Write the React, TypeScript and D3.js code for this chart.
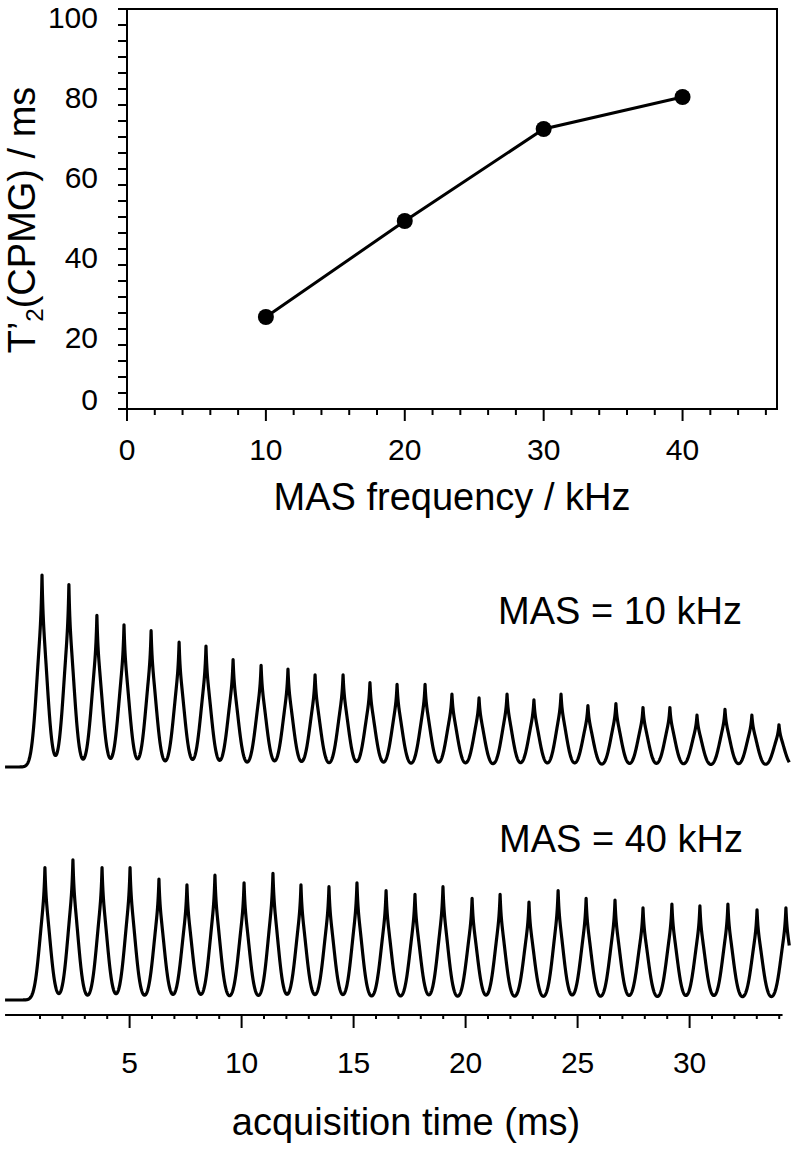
import React from 'react'
import * as d3 from 'd3'

// top panel: T'2(CPMG) vs MAS frequency
const MAS_FREQ = [10, 20, 30, 40]
const T2_CPMG = [23, 47, 70, 78]
const Y_TICK_LABELS = [0, 20, 40, 60, 80, 100]
const X_TICK_LABELS = [0, 10, 20, 30, 40]

// bottom panel: echo trains, echo top times (ms) and heights (a.u.)
const ECHO_T_10 = [1.09, 2.29, 3.54, 4.75, 5.96, 7.21, 8.41, 9.62, 10.87, 12.07, 13.28, 14.53, 15.73, 16.94,
  18.19, 19.39, 20.6, 21.85, 23.05, 24.26, 25.46, 26.71, 27.92, 29.12, 30.33, 31.58, 32.78, 33.99]
const ECHO_A_10 = [100, 95, 79, 74, 71, 65, 63, 56, 53, 51, 48, 48, 44, 43,
  43, 38, 36, 38, 35, 38, 32, 33, 31, 31, 27, 30, 27, 22]
const ECHO_T_40 = [1.22, 2.47, 3.77, 5.02, 6.31, 7.56, 8.81, 10.11, 11.4, 12.65, 13.9, 15.15, 16.45, 17.74,
  18.99, 20.29, 21.54, 22.83, 24.13, 25.38, 26.67, 27.92, 29.21, 30.46, 31.71, 33.01, 34.3]
const ECHO_A_40 = [69, 73, 69, 69, 63, 60, 65, 61, 66, 60, 59, 61, 57, 55,
  59, 53, 55, 51, 57, 53, 52, 48, 50, 49, 50, 47, 48]
const TIME_TICK_LABELS = [5, 10, 15, 20, 25, 30]

const FONT = '"Liberation Sans", Arial, Helvetica, sans-serif'

// echo line shape: small sharp tip on a gaussian body
function echoAt(t: number, times: number[], amps: number[]) {
  let s = 0
  times.forEach((t0, i) => {
    const dt = t - t0
    if (Math.abs(dt) > 2) return
    s += amps[i] * (0.3 * Math.exp(-Math.abs(dt) / 0.05)
      + 0.7 * Math.exp(-(dt * dt) / (2 * 0.24 * 0.24)))
  })
  return s
}

function TopChart() {
  const x = d3.scaleLinear().domain([0, 46.8]).range([127, 777])
  const y = d3.scaleLinear().domain([0, 100]).range([409, 9])
  const line = d3.line<number>().x((d, i) => x(MAS_FREQ[i])).y(d => y(d))

  return (
    <g>
      <path d={`M${x(0)},${y(100)}H${x(46.8)}V${y(0)}H${x(0)}Z`} fill="none" stroke="#000" strokeWidth={2} />
      {d3.range(0, 101, 4).map(v => (
        <line key={'yt' + v} x1={x(0) - 9} x2={x(0)} y1={y(v)} y2={y(v)} stroke="#000" strokeWidth={2} />
      ))}
      {Y_TICK_LABELS.map(v => (
        <text key={'yl' + v} x={98} y={y(v) + (v === 0 ? -10 : 8)} dy="0.36em" textAnchor="end"
          fontSize={30} fontFamily={FONT}>{v}</text>
      ))}
      {d3.range(0, 47, 2).map(v => (
        <line key={'xt' + v} x1={x(v)} x2={x(v)} y1={y(0)} y2={y(0) + (v % 10 === 0 ? 12 : 6)}
          stroke="#000" strokeWidth={2} />
      ))}
      {X_TICK_LABELS.map(v => (
        <text key={'xl' + v} x={x(v)} y={460} textAnchor="middle" fontSize={30} fontFamily={FONT}>{v}</text>
      ))}
      <text x={452} y={510} textAnchor="middle" fontSize={38} fontFamily={FONT}>MAS frequency / kHz</text>
      <text transform="translate(35,220) rotate(-90)" textAnchor="middle" fontSize={38} fontFamily={FONT}>
        T’<tspan fontSize={24} dy={8}>2</tspan><tspan dy={-8}>(CPMG) / ms</tspan>
      </text>
      <path d={line(T2_CPMG) || ''} fill="none" stroke="#000" strokeWidth={3} />
      {T2_CPMG.map((v, i) => (
        <circle key={'p' + i} cx={x(MAS_FREQ[i])} cy={y(v)} r={8} fill="#000" />
      ))}
    </g>
  )
}

function BottomChart() {
  const x = d3.scaleLinear().domain([0, 34]).range([17.6, 779.2])
  const y10 = d3.scaleLinear().domain([0, 100]).range([767, 575])
  const y40 = d3.scaleLinear().domain([0, 100]).range([1000, 808])
  const ts = d3.range(-0.56, 34.45, 0.01)
  const trace10 = ts.map(t => [t, echoAt(t, ECHO_T_10, ECHO_A_10)] as [number, number])
  const trace40 = ts.map(t => [t, echoAt(t, ECHO_T_40, ECHO_A_40)] as [number, number])
  const l10 = d3.line<[number, number]>().x(d => x(d[0])).y(d => y10(d[1]))
  const l40 = d3.line<[number, number]>().x(d => x(d[0])).y(d => y40(d[1]))
  const axisY = 1015

  return (
    <g>
      <path d={l10(trace10) || ''} fill="none" stroke="#000" strokeWidth={3.2} strokeLinejoin="round" />
      <path d={l40(trace40) || ''} fill="none" stroke="#000" strokeWidth={3.2} strokeLinejoin="round" />
      <text x={620} y={624} textAnchor="middle" fontSize={38} fontFamily={FONT}>MAS = 10 kHz</text>
      <text x={621} y={852} textAnchor="middle" fontSize={38} fontFamily={FONT}>MAS = 40 kHz</text>
      <line x1={x(-0.56)} x2={x(34.15)} y1={axisY} y2={axisY} stroke="#000" strokeWidth={2} />
      {d3.range(1, 35).map(v => (
        <line key={'bt' + v} x1={x(v)} x2={x(v)} y1={axisY} y2={axisY + (v % 5 === 0 ? 13 : 4)}
          stroke="#000" strokeWidth={2} />
      ))}
      {TIME_TICK_LABELS.map(v => (
        <text key={'bl' + v} x={x(v)} y={1073} textAnchor="middle" fontSize={30} fontFamily={FONT}>{v}</text>
      ))}
      <text x={406} y={1135} textAnchor="middle" fontSize={38} fontFamily={FONT}>acquisition time (ms)</text>
    </g>
  )
}

export default function App() {
  return (
    <svg width={795} height={1150} style={{ position: 'absolute', left: 0, top: 0, background: '#fff' }}>
      <rect width={795} height={1150} fill="#fff" />
      <TopChart />
      <BottomChart />
    </svg>
  )
}
